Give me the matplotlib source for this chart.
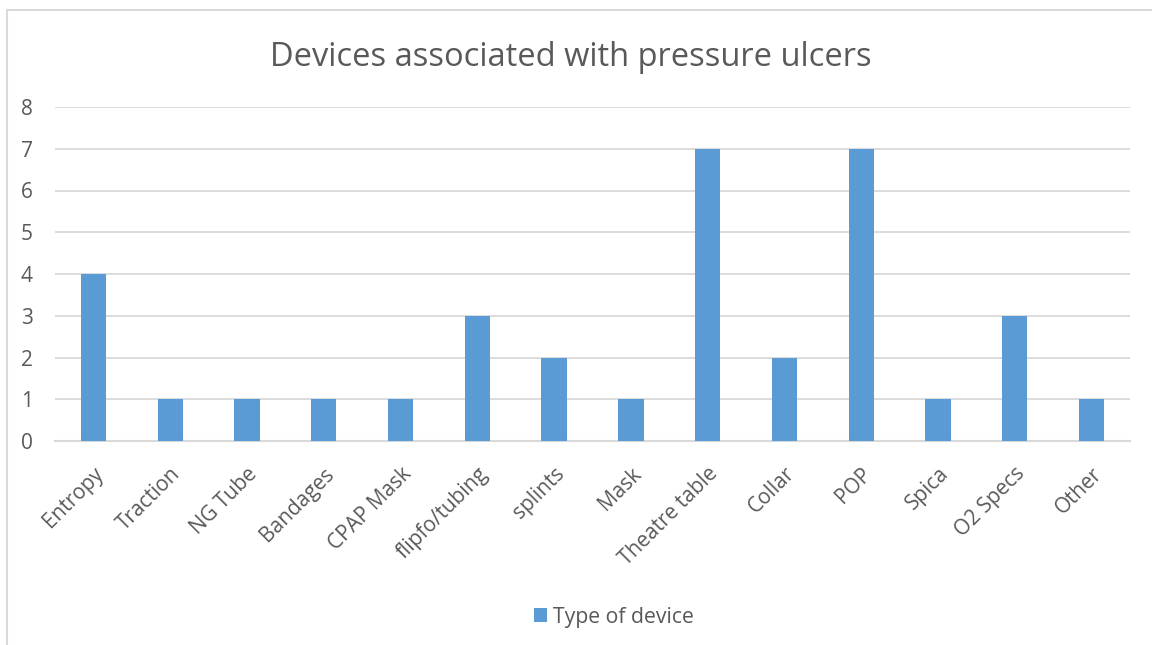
import matplotlib
matplotlib.use("Agg")
import matplotlib.pyplot as plt
from matplotlib.patches import Rectangle
import matplotlib.transforms as mtransforms
import numpy as np

categories = ["Entropy", "Traction", "NG Tube", "Bandages", "CPAP Mask", "flipfo/tubing",
              "splints", "Mask", "Theatre table", "Collar", "POP", "Spica", "O2 Specs", "Other"]
values = [4, 1, 1, 1, 1, 3, 2, 1, 7, 2, 7, 1, 3, 1]
series_name = "Type of device"
title = "Devices associated with pressure ulcers"
yticks = [0, 1, 2, 3, 4, 5, 6, 7, 8]

plt.rcParams['font.family'] = ['Open Sans', 'DejaVu Sans']
txt = "#595959"
bar_color = "#5b9bd5"
grid_color = "#d9d9d9"

W, H = 1152, 645
fig = plt.figure(figsize=(W / 100, H / 100), dpi=100)

# chart border
fig.patches.append(Rectangle((7 / W, -0.1), 1.2, (H - 9.5) / H + 0.1, transform=fig.transFigure,
                             fill=False, edgecolor=grid_color, linewidth=1.5))

left, right = 55, 1130
top, bottom = 107, 441
ax = fig.add_axes([left / W, 1 - bottom / H, (right - left) / W, (bottom - top) / H])

x = np.arange(len(categories))
ax.bar(x, values, width=0.33, color=bar_color, label=series_name, zorder=3)
ax.set_xlim(-0.5, len(categories) - 0.5)
ax.set_ylim(0, 8)
ax.set_yticks(yticks)
ax.set_yticklabels([str(t) for t in yticks], fontsize=15, color=txt)
ax.set_xticks(x)
ax.set_xticklabels(categories, rotation=45, ha="right", va="top", rotation_mode="anchor",
                   fontsize=15, color=txt)
offset = mtransforms.ScaledTranslation(6 / 100, 0, fig.dpi_scale_trans)
for lab in ax.get_xticklabels():
    lab.set_transform(lab.get_transform() + offset)
ax.tick_params(axis="both", length=0)
ax.tick_params(axis="y", pad=16)
ax.tick_params(axis="x", pad=16)
for s in ["top", "right", "left"]:
    ax.spines[s].set_visible(False)
ax.spines["bottom"].set_color(grid_color)
ax.spines["bottom"].set_linewidth(1.5)
ax.yaxis.grid(True, color=grid_color, linewidth=1.3, zorder=0)
ax.set_axisbelow(True)

fig.text(571 / W, 1 - 57 / H, title, ha="center", va="center", fontsize=23.5, color=txt)

leg = fig.legend(loc="center", bbox_to_anchor=(614 / W, 1 - 617 / H), frameon=False,
                 fontsize=15.3, handlelength=0.62, handleheight=0.62, handletextpad=0.25,
                 labelcolor=txt)

fig.savefig("out.png", dpi=100)
